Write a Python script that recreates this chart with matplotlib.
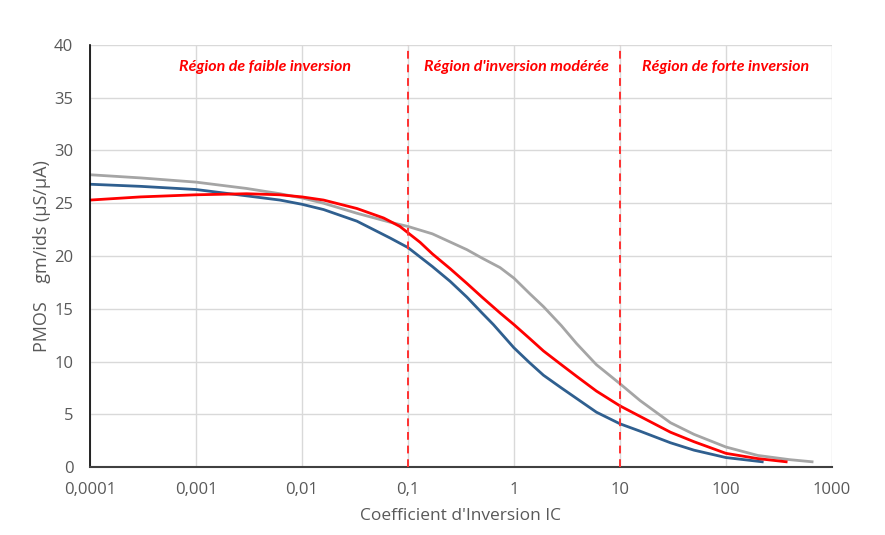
import matplotlib.pyplot as plt

# Curves (IC, gm/ids)
ic_blue = [1e-4, 3e-4, 1e-3, 3e-3, 0.0062, 0.01, 0.016, 0.033, 0.068, 0.1, 0.17, 0.25, 0.36, 0.5,
           0.64, 1, 1.4, 1.9, 2.8, 3.9, 6, 10, 15.5, 30, 50, 100, 220]
gm_blue = [26.8, 26.6, 26.3, 25.7, 25.3, 24.9, 24.4, 23.3, 21.7, 20.8, 19.0, 17.6, 16.1, 14.6,
           13.5, 11.3, 9.9, 8.7, 7.5, 6.5, 5.2, 4.1, 3.4, 2.3, 1.6, 0.9, 0.5]

ic_red = [1e-4, 3e-4, 1e-3, 3e-3, 0.0062, 0.01, 0.016, 0.033, 0.059, 0.084, 0.1, 0.13, 0.17, 0.25,
          0.36, 0.5, 0.74, 1, 1.4, 1.9, 2.8, 3.9, 6, 10, 15.5, 30, 50, 100, 200, 370]
gm_red = [25.3, 25.6, 25.8, 25.9, 25.8, 25.6, 25.3, 24.5, 23.6, 22.8, 22.2, 21.3, 20.2, 18.8,
          17.4, 16.1, 14.6, 13.5, 12.2, 11.0, 9.7, 8.6, 7.2, 5.8, 4.8, 3.3, 2.4, 1.3, 0.8, 0.5]

ic_gray = [1e-4, 3e-4, 1e-3, 3e-3, 0.0062, 0.01, 0.016, 0.033, 0.068, 0.1, 0.17, 0.36, 0.5, 0.74,
           1, 1.42, 1.9, 2.8, 3.9, 6, 10, 15.5, 30, 50, 100, 200, 400, 650]
gm_gray = [27.7, 27.4, 27.0, 26.4, 25.9, 25.5, 25.0, 24.05, 23.2, 22.8, 22.1, 20.6, 19.8, 18.9,
           17.9, 16.4, 15.2, 13.4, 11.7, 9.7, 7.9, 6.3, 4.2, 3.1, 1.9, 1.1, 0.7, 0.5]

region_bounds = [0.1, 10]
region_labels = ["Région de faible inversion", "Région d'inversion modérée", "Région de forte inversion"]
region_label_x = [0.0045, 1.06, 100]

xticks = [1e-4, 1e-3, 1e-2, 0.1, 1, 10, 100, 1000]
xtick_labels = ["0,0001", "0,001", "0,01", "0,1", "1", "10", "100", "1000"]

plt.rcParams['font.family'] = ['Open Sans', 'DejaVu Sans']

fig = plt.figure(figsize=(8.85, 5.35), dpi=100)
ax = fig.add_axes([0.1017, 0.127, 0.8383, 0.789])

ax.plot(ic_gray, gm_gray, color='#a5a5a5', linewidth=2)
ax.plot(ic_blue, gm_blue, color='#2f5f8f', linewidth=2)
ax.plot(ic_red, gm_red, color='#ff0000', linewidth=2)

for b in region_bounds:
    ax.axvline(b, color='#ff3030', linestyle=(0, (4, 3)), linewidth=1.4, zorder=3)

for lab, x in zip(region_labels, region_label_x):
    ax.text(x, 37.9, lab, color='#ff0000', fontsize=11.5, fontweight='bold',
            fontstyle='italic', ha='center', va='center', family='Lato')

ax.set_xscale('log')
ax.set_xlim(1e-4, 1000)
ax.set_ylim(0, 40)
ax.set_xticks(xticks)
ax.set_xticklabels(xtick_labels)
ax.minorticks_off()
ax.set_yticks(range(0, 41, 5))
ax.tick_params(length=0, labelsize=12, colors='#595959')
ax.tick_params(axis='x', pad=11)
ax.tick_params(axis='y', pad=12)
ax.grid(True, color='#d9d9d9', linewidth=1)
ax.set_axisbelow(True)

for s in ['top', 'right']:
    ax.spines[s].set_visible(False)
ax.spines['left'].set_color('black')
ax.spines['left'].set_linewidth(1.2)
ax.spines['bottom'].set_color('#404040')
ax.spines['bottom'].set_linewidth(1.5)

ax.set_xlabel("Coefficient d'Inversion IC", fontsize=12.5, color='#595959', labelpad=7)
ax.set_ylabel("PMOS    gm/ids (µS/µA)", fontsize=13, color='#595959', labelpad=2)

plt.savefig('out.png', dpi=100)
